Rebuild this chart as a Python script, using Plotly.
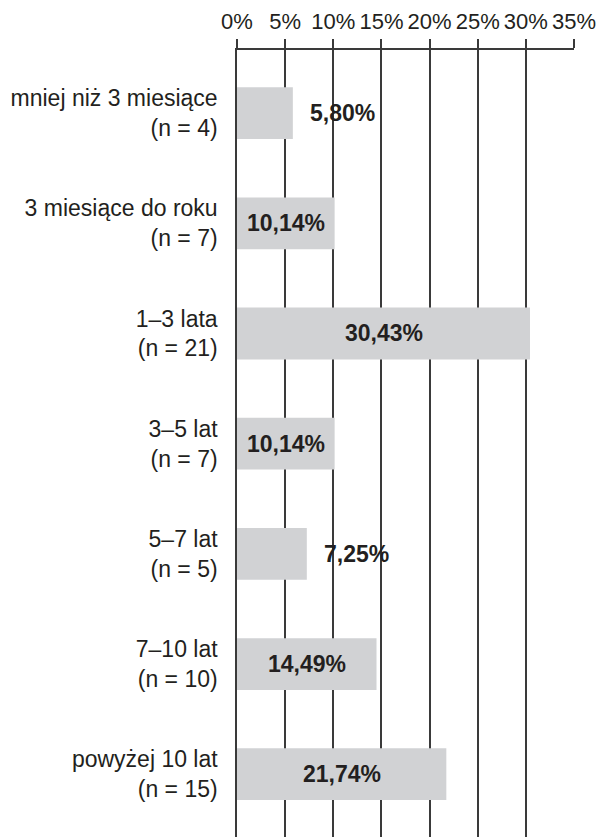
import plotly.graph_objects as go

# Time ranges, respondent counts and share of respondents (%)
periods = [
    "mniej niż 3 miesiące",
    "3 miesiące do roku",
    "1–3 lata",
    "3–5 lat",
    "5–7 lat",
    "7–10 lat",
    "powyżej 10 lat",
]
counts = [4, 7, 21, 7, 5, 10, 15]
shares = [5.80, 10.14, 30.43, 10.14, 7.25, 14.49, 21.74]
x_ticks = [0, 5, 10, 15, 20, 25, 30, 35]

labels = [f"{p}<br>(n = {n})" for p, n in zip(periods, counts)]

INK = "#231f20"
GRID = "#3a3a3a"
FONT = "Liberation Sans, Arial, sans-serif"
SIZE = 23

fig = go.Figure(
    go.Bar(
        x=shares,
        y=labels,
        orientation="h",
        width=0.47,
        marker=dict(color="#d1d2d4", line=dict(width=0)),
        hoverinfo="skip",
    )
)

# Value labels: centred in wide bars, just past the end of narrow ones
for lab, v in zip(labels, shares):
    txt = f"{v:.2f}".replace(".", ",") + "%"
    if v >= 10:
        fig.add_annotation(x=v / 2, y=lab, text=f"<b>{txt}</b>", showarrow=False,
                           xanchor="center", font=dict(size=SIZE, color=INK, family=FONT))
    else:
        fig.add_annotation(x=v, y=lab, text=f"<b>{txt}</b>", showarrow=False,
                           xanchor="left", xshift=15, font=dict(size=SIZE, color=INK, family=FONT))

fig.update_layout(
    width=610,
    height=837,
    margin=dict(l=237, r=36, t=50, b=0),
    paper_bgcolor="white",
    plot_bgcolor="white",
    showlegend=False,
    font=dict(family=FONT, size=SIZE, color=INK),
    xaxis=dict(
        side="top",
        range=[0, 35],
        tickvals=x_ticks,
        ticktext=[f"{t}%" for t in x_ticks],
        tickangle=0,
        automargin=False,
        ticks="outside",
        ticklen=9,
        tickwidth=1.5,
        tickcolor=GRID,
        showline=True,
        linecolor=GRID,
        linewidth=1.5,
        showgrid=True,
        gridcolor=GRID,
        gridwidth=1.5,
        zeroline=False,
        ticklabelstandoff=1,
        tickfont=dict(size=22, color=INK),
        fixedrange=True,
    ),
    yaxis=dict(
        range=[6.57, -0.573],
        automargin=False,
        showline=True,
        linecolor=GRID,
        linewidth=1.5,
        showgrid=False,
        zeroline=False,
        ticks="",
        ticklabelstandoff=13,
        tickfont=dict(size=SIZE, color=INK),
        fixedrange=True,
    ),
)

fig.write_html("out.html")
